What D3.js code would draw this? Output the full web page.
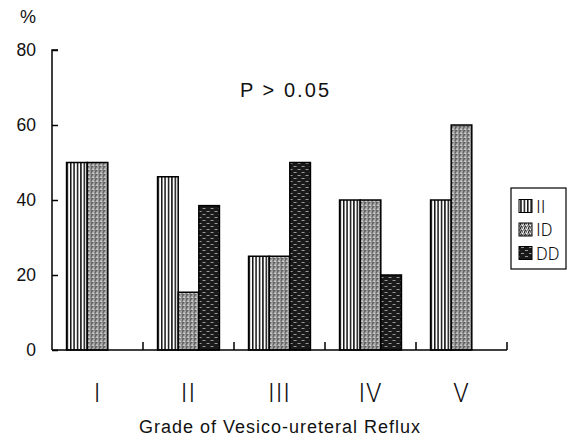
<!DOCTYPE html>
<html><head><meta charset="utf-8">
<script src="https://cdn.jsdelivr.net/npm/d3@7"></script>
<style>body{margin:0;background:#fff}svg{display:block}text{font-family:"Liberation Sans",Arial,sans-serif;fill:#111}</style>
</head><body>
<svg id="c" width="570" height="441"></svg>
<script>
const categories = ["I","II","III","IV","V"];
const seriesNames = ["II","ID","DD"];
const valuesII = [50, 46.2, 25, 40, 40];
const valuesID = [50, 15.4, 25, 40, 60];
const valuesDD = [null, 38.5, 50, 20, null];
const yTicks = [0, 20, 40, 60, 80];
const xTitle = "Grade of Vesico-ureteral Reflux";
const note = "P > 0.05";

const svg = d3.select("#c");
const defs = svg.append("defs");
const p1 = defs.append("pattern").attr("id","pII").attr("patternUnits","userSpaceOnUse").attr("width",3.4).attr("height",4);
p1.append("rect").attr("width",3.4).attr("height",4).attr("fill","#fff");
p1.append("rect").attr("x",0).attr("width",1.5).attr("height",4).attr("fill","#111");
const p2 = defs.append("pattern").attr("id","pID").attr("patternUnits","userSpaceOnUse").attr("width",4).attr("height",4);
p2.append("rect").attr("width",4).attr("height",4).attr("fill","#8f8f8f");
[[0,0,"#222"],[2,1,"#fff"],[1,2,"#333"],[3,3,"#eee"],[3,0,"#ddd"],[0,3,"#444"],[2,3,"#666"],[1,0,"#bbb"]].forEach(([x,y,c])=>p2.append("rect").attr("x",x).attr("y",y).attr("width",1).attr("height",1).attr("fill",c));
const p3 = defs.append("pattern").attr("id","pDD").attr("patternUnits","userSpaceOnUse").attr("width",8).attr("height",6);
p3.append("rect").attr("width",8).attr("height",6).attr("fill","#1a1a1a");
p3.append("rect").attr("x",1).attr("y",1).attr("width",3).attr("height",1).attr("fill","#999");
p3.append("rect").attr("x",5).attr("y",4).attr("width",3).attr("height",1).attr("fill","#999");
const fills = {II:"url(#pII)", ID:"url(#pID)", DD:"url(#pDD)"};

const y = d3.scaleLinear().domain([0,80]).range([350,50]);
const x0 = d3.scaleBand().domain(categories).range([52,507]).paddingInner(0.32).paddingOuter(0.16);
const x1 = d3.scaleBand().domain(seriesNames).range([0,x0.bandwidth()]);

const data = categories.map((c,i)=>({cat:c, vals:[
  {s:"II", v:valuesII[i]},{s:"ID", v:valuesID[i]},{s:"DD", v:valuesDD[i]}]}));

const g = svg.append("g");
g.selectAll("g.grp").data(data).join("g").attr("transform",d=>`translate(${x0(d.cat)},0)`)
 .selectAll("rect").data(d=>d.vals.filter(e=>e.v!=null)).join("rect")
 .attr("x",d=>x1(d.s)).attr("width",x1.bandwidth())
 .attr("y",d=>y(d.v)).attr("height",d=>y(0)-y(d.v))
 .attr("fill",d=>fills[d.s]).attr("stroke","#000").attr("stroke-width",1.5);

const ya = svg.append("g").attr("transform","translate(52,0)")
 .call(d3.axisRight(y).tickValues(yTicks).tickSize(6).tickFormat(""));
ya.select(".domain").attr("d","M6,50H0V350").attr("stroke","#000").attr("stroke-width",1.5).attr("fill","none");
ya.selectAll(".tick line").attr("stroke","#000").attr("stroke-width",1.5);
svg.selectAll("text.yl").data(yTicks).join("text").attr("class","yl")
 .attr("x",36).attr("y",d=>y(d)+6).attr("text-anchor","end").attr("font-size",17.5).text(d=>d);
svg.append("text").attr("x",20).attr("y",23).attr("font-size",18).text("%");

const xa = svg.append("g").attr("transform","translate(0,350)");
xa.append("line").attr("x1",52).attr("x2",507).attr("stroke","#000").attr("stroke-width",1.5);
const bx = d3.scaleLinear().domain([0,5]).range([52,507]);
xa.selectAll("line.t").data(d3.range(1,6)).join("line").attr("class","t")
 .attr("x1",d=>bx(d)).attr("x2",d=>bx(d)).attr("y1",0).attr("y2",-8).attr("stroke","#000").attr("stroke-width",1.5);
svg.selectAll("text.xl").data(categories).join("text").attr("class","xl")
 .attr("x",d=>x0(d)-x0.step()*0.16+x0.step()/2).attr("y",402).attr("text-anchor","middle")
 .style("font-family","Roboto, 'Liberation Sans', sans-serif").attr("font-weight",300)
 .attr("font-size",25).attr("letter-spacing",1).text(d=>d);
svg.append("text").attr("x",139).attr("y",433).attr("font-size",18)
 .attr("textLength",281).attr("lengthAdjust","spacing").text(xTitle);
svg.append("text").attr("x",240).attr("y",97).attr("font-size",20)
 .attr("textLength",89).attr("lengthAdjust","spacing").text(note);

const lg = svg.append("g");
lg.append("rect").attr("x",511).attr("y",188).attr("width",55).attr("height",81).attr("fill","#fff").attr("stroke","#000").attr("stroke-width",1.2);
const ly = d3.scalePoint().domain(seriesNames).range([206,253]);
lg.selectAll("rect.sw").data(seriesNames).join("rect").attr("class","sw")
 .attr("x",519).attr("y",d=>ly(d)-6.5).attr("width",13).attr("height",13)
 .attr("fill",d=>fills[d]).attr("stroke","#000").attr("stroke-width",1);
lg.selectAll("text").data(seriesNames).join("text").attr("x",536).attr("y",d=>ly(d)+6.5)
 .style("font-family","Roboto, 'Liberation Sans', sans-serif").attr("font-weight",300)
 .attr("font-size",18).text(d=>d);
</script>
</body></html>
